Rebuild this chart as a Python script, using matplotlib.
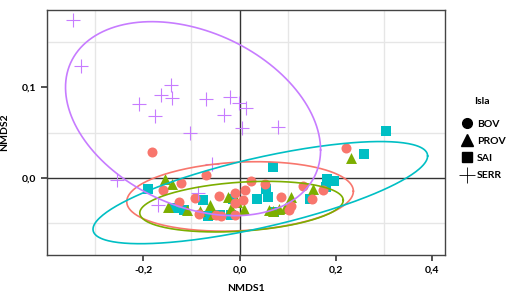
import matplotlib.pyplot as plt
import numpy as np
from matplotlib.lines import Line2D

plt.rcParams['font.family'] = ['Lato', 'DejaVu Sans']

# NMDS scores
bov_x = [-0.181, -0.122, -0.159, -0.070, -0.125, -0.093, -0.042, -0.009, -0.010, -0.038,
         -0.048, 0.023, 0.052, 0.012, 0.007, -0.010, 0.085, 0.107, 0.131, 0.151,
         0.174, 0.103, 0.221, -0.085]
bov_y = [0.028, -0.006, -0.014, 0.003, -0.027, -0.022, -0.020, -0.017, -0.028, -0.042,
         -0.041, -0.004, -0.007, -0.014, -0.025, -0.041, -0.021, -0.031, -0.009, -0.024,
         -0.014, -0.036, 0.0325, -0.040]
prov_x = [-0.155, -0.141, -0.148, -0.110, -0.062, -0.082, -0.025, -0.005, -0.055, 0.010,
          -0.017, 0.062, 0.082, 0.107, 0.153, 0.232, 0.070, 0.095]
prov_y = [-0.001, -0.007, -0.032, -0.036, -0.030, -0.037, -0.021, -0.027, -0.040, -0.035,
          -0.034, -0.036, -0.035, -0.021, -0.012, 0.0215, -0.037, -0.033]
sai_x = [-0.189, -0.075, -0.136, -0.115, -0.065, -0.041, -0.017, 0.304, 0.258, 0.070,
         0.182, 0.196, 0.179, 0.146, 0.055, 0.058, 0.036, -0.014, 0.072]
sai_y = [-0.013, -0.025, -0.034, -0.036, -0.042, -0.041, -0.041, 0.052, 0.026, 0.0115,
         -0.001, -0.004, -0.010, -0.024, -0.013, -0.021, -0.023, -0.024, -0.038]
serr_x = [-0.345, -0.328, -0.142, -0.162, -0.141, -0.209, -0.069, -0.019, -0.002, 0.014,
          -0.032, -0.175, -0.103, 0.005, 0.080, -0.254, -0.170, -0.086, -0.058]
serr_y = [0.174, 0.124, 0.103, 0.092, 0.088, 0.082, 0.087, 0.089, 0.083, 0.077,
          0.069, 0.068, 0.050, 0.055, 0.056, -0.002, -0.030, -0.017, 0.015]

groups = ['BOV', 'PROV', 'SAI', 'SERR']
colors = ['#F8766D', '#7CAE00', '#00BFC4', '#C77CFF']

# ellipse parameters: centre, half extents, correlation
ell_cx = [0.001, 0.004, 0.043, -0.0965]
ell_cy = [-0.0207, -0.032, -0.0165, 0.0653]
ell_sx = [0.235, 0.211, 0.347, 0.2645]
ell_sy = [0.0384, 0.028, 0.0565, 0.1073]
ell_rho = [0.15, 0.25, 0.717, -0.323]

fig = plt.figure(figsize=(5.10, 3.01), dpi=100)
ax = fig.add_axes([0.0916, 0.1528, 0.7809, 0.814])

ax.set_xlim(-0.396, 0.426)
ax.set_ylim(-0.0855, 0.1855)
ax.set_xticks(np.arange(-0.4, 0.45, 0.1), minor=True)
ax.set_yticks(np.arange(-0.05, 0.2, 0.05), minor=True)
ax.grid(which='minor', color='#e6e6e6', linewidth=1.0)
ax.set_axisbelow(True)
ax.axhline(0, color='#333333', lw=1.0, zorder=1)
ax.axvline(0, color='#333333', lw=1.0, zorder=1)

ax.scatter(sai_x, sai_y, marker='s', s=48, color=colors[2], zorder=3, linewidths=0)
ax.scatter(prov_x, prov_y, marker='^', s=62, color=colors[1], zorder=3, linewidths=0)
ax.scatter(bov_x, bov_y, marker='o', s=52, color=colors[0], zorder=3, linewidths=0)
ax.scatter(serr_x, serr_y, marker='+', s=110, color=colors[3], zorder=3, linewidths=0.8)

t = np.linspace(0, 2 * np.pi, 300)
for i, c in enumerate(colors):
    ex = ell_cx[i] + ell_sx[i] * np.cos(t)
    ey = ell_cy[i] + ell_sy[i] * (ell_rho[i] * np.cos(t) + np.sqrt(1 - ell_rho[i] ** 2) * np.sin(t))
    ax.plot(ex, ey, color=c, lw=1.2, zorder=4)

ax.set_xticks([-0.2, 0.0, 0.2, 0.4])
ax.set_xticklabels(['-0,2', '0,0', '0,2', '0,4'])
ax.set_yticks([0.0, 0.1])
ax.set_yticklabels(['0,0', '0,1'])
ax.tick_params(which='major', length=4, width=1.2, labelsize=7.5, color='#333333')
ax.tick_params(which='minor', length=0)
for lab in ax.get_xticklabels() + ax.get_yticklabels():
    lab.set_fontweight('bold')
for sp in ax.spines.values():
    sp.set_color('#444444')
    sp.set_linewidth(1.0)

ax.set_xlabel('NMDS1', fontsize=7.5, fontweight='bold', labelpad=7)
ax.set_ylabel('NMDS2', fontsize=7.5, fontweight='bold', labelpad=9)

handles = [Line2D([], [], ls='none', marker='o', color='black', markersize=7),
           Line2D([], [], ls='none', marker='^', color='black', markersize=8),
           Line2D([], [], ls='none', marker='s', color='black', markersize=6.5),
           Line2D([], [], ls='none', marker='+', color='black', markersize=12, markeredgewidth=0.6)]
leg = fig.legend(handles, groups, title='Isla', loc='center left',
                 bbox_to_anchor=(0.88, 0.54), frameon=False,
                 prop={'size': 7.5, 'weight': 'bold'}, handletextpad=0.2,
                 labelspacing=0.75, handlelength=1.6)
leg.get_title().set_fontsize(7.5)
leg.get_title().set_fontweight('bold')
leg._legend_box.sep = 10

fig.savefig('out.png', dpi=100)
